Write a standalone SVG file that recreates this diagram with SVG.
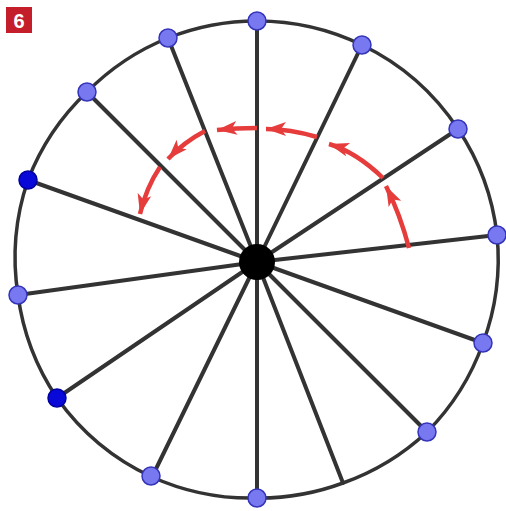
<svg xmlns="http://www.w3.org/2000/svg" width="506" height="511" viewBox="0 0 506 511">
<style>
.rim{fill:none;stroke:#333;stroke-width:3.5}
.spoke{stroke:#333;stroke-width:4;stroke-linecap:round}
.n{fill:#7878f0;stroke:#3434b8;stroke-width:1.5}
.d{fill:#0808d8;stroke:#0000a0;stroke-width:1.5}
.arr{fill:none;stroke:#e63c3c;stroke-width:4.5;marker-end:url(#ah)}
</style>
<defs>
<marker id="ah" markerUnits="userSpaceOnUse" markerWidth="22" markerHeight="16" refX="20" refY="7" orient="auto">
<path d="M0,0 L20,7 L0,14 L5,7 Z" fill="#e63c3c"/>
</marker>
</defs>
<rect x="0" y="0" width="506" height="511" fill="#fff"/>
<g id="badge">
<rect x="6" y="7" width="26" height="26" fill="#c41e2a"/>
<text x="19" y="28" text-anchor="middle" font-family="Liberation Sans, Arial, sans-serif" font-weight="bold" font-size="20" fill="#fff">6</text>
</g>
<g id="connectors">
<path class="rim" d="M257,21 A240,240 0 0 1 362,45 A240,240 0 0 1 458,129 A240,240 0 0 1 497,235 A240,240 0 0 1 483,343 A240,240 0 0 1 427,432 A240,240 0 0 1 343,483 A240,240 0 0 1 257,498 A240,240 0 0 1 152,477 A240,240 0 0 1 57,398 A240,240 0 0 1 18,295 A240,240 0 0 1 28,180 A240,240 0 0 1 87,92 A240,240 0 0 1 168,38 A240,240 0 0 1 257,21 Z"/>
<g class="spokes">
<line class="spoke" x1="257" y1="262" x2="257" y2="21"/>
<line class="spoke" x1="257" y1="262" x2="362" y2="45"/>
<line class="spoke" x1="257" y1="262" x2="458" y2="129"/>
<line class="spoke" x1="257" y1="262" x2="497" y2="235"/>
<line class="spoke" x1="257" y1="262" x2="483" y2="343"/>
<line class="spoke" x1="257" y1="262" x2="427" y2="432"/>
<line class="spoke" x1="257" y1="262" x2="343" y2="483"/>
<line class="spoke" x1="257" y1="262" x2="257" y2="498"/>
<line class="spoke" x1="257" y1="262" x2="152" y2="477"/>
<line class="spoke" x1="257" y1="262" x2="57" y2="398"/>
<line class="spoke" x1="257" y1="262" x2="18" y2="295"/>
<line class="spoke" x1="257" y1="262" x2="28" y2="180"/>
<line class="spoke" x1="257" y1="262" x2="87" y2="92"/>
<line class="spoke" x1="257" y1="262" x2="168" y2="38"/>
</g>
<g class="arrows">
<path class="arr" d="M409,248 Q400,214 386,186"/>
<path class="arr" d="M383,178 Q356,152 329,144"/>
<path class="arr" d="M317,137 Q290,129 266,129"/>
<path class="arr" d="M257,128 Q236,128 217,130"/>
<path class="arr" d="M205,131 Q184,142 168,159"/>
<path class="arr" d="M160,167 Q146,188 140,214"/>
</g>
</g>
<g id="hub"><circle cx="257" cy="262" r="18" fill="#000"/></g>
<g id="nodes">
<circle id="n1" class="n" cx="257" cy="21" r="9"/>
<circle id="n2" class="n" cx="362" cy="45" r="9"/>
<circle id="n3" class="n" cx="458" cy="129" r="9"/>
<circle id="n4" class="n" cx="497" cy="235" r="9"/>
<circle id="n5" class="n" cx="483" cy="343" r="9"/>
<circle id="n6" class="n" cx="427" cy="432" r="9"/>
<circle id="n7" class="n" cx="257" cy="498" r="9"/>
<circle id="n8" class="n" cx="151" cy="476" r="9"/>
<circle id="n9" class="d" cx="57" cy="398" r="9"/>
<circle id="n10" class="n" cx="18" cy="295" r="9"/>
<circle id="n11" class="d" cx="28" cy="180" r="9"/>
<circle id="n12" class="n" cx="87" cy="92" r="9"/>
<circle id="n13" class="n" cx="168" cy="38" r="9"/>
</g>
</svg>
